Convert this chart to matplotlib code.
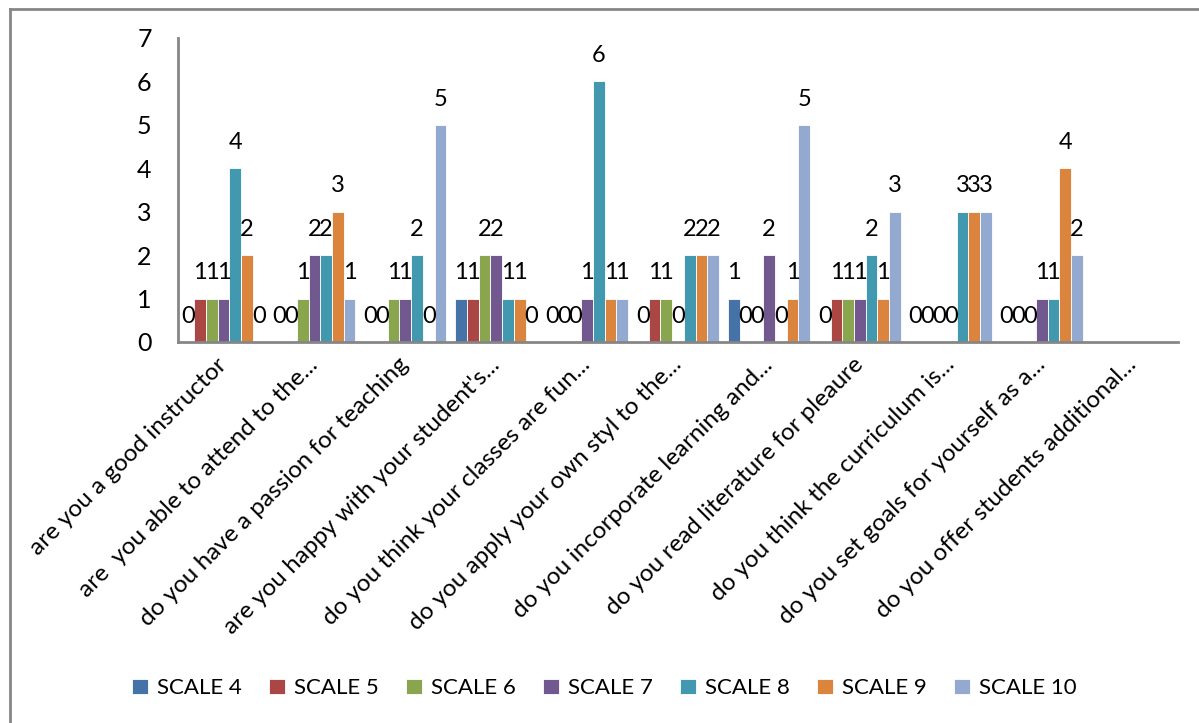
import matplotlib.pyplot as plt
import numpy as np
from matplotlib.lines import Line2D

plt.rcParams['font.family'] = ['Lato', 'DejaVu Sans']

questions = [
    "are you a good instructor",
    "are  you able to attend to the...",
    "do you have a passion for teaching",
    "are you happy with your student's...",
    "do you think your classes are fun...",
    "do you apply your own styl to the...",
    "do you incorporate learning and...",
    "do you read literature for pleaure",
    "do you think the curriculum is...",
    "do you set goals for yourself as a...",
    "do you offer students additional...",
]

scale_4 = [0, 0, 0, 1, 0, 0, 1, 0, 0, 0, None]
scale_5 = [1, 0, 0, 1, 0, 1, 0, 1, 0, 0, None]
scale_6 = [1, 1, 1, 2, 0, 1, 0, 1, 0, 0, None]
scale_7 = [1, 2, 1, 2, 1, 0, 2, 1, 0, 1, None]
scale_8 = [4, 2, 2, 1, 6, 2, 0, 2, 3, 1, None]
scale_9 = [2, 3, 0, 1, 1, 2, 1, 1, 3, 4, None]
scale_10 = [0, 1, 5, 0, 1, 2, 5, 3, 3, 2, None]

series = [scale_4, scale_5, scale_6, scale_7, scale_8, scale_9, scale_10]
names = ['SCALE 4', 'SCALE 5', 'SCALE 6', 'SCALE 7', 'SCALE 8', 'SCALE 9', 'SCALE 10']
colors = ['#4572a7', '#aa4643', '#89a54e', '#71588f', '#4198af', '#db843d', '#93a9cf']

fig = plt.figure(figsize=(11.99, 7.23), dpi=100)
ax = fig.add_axes([0.1485, 0.527, 0.834, 0.4205])

x = np.arange(len(questions))
w = 0.129
for i, (vals, name, c) in enumerate(zip(series, names, colors)):
    v = np.array([np.nan if a is None else a for a in vals], dtype=float)
    pos = x + (i - 3) * w
    ax.bar(pos, np.nan_to_num(v), w, color=c, edgecolor='white', linewidth=0.6, label=name)
    for p, val in zip(pos, v):
        if np.isnan(val):
            continue
        ax.annotate(str(int(val)), (p, val), xytext=(0, 18.5), textcoords='offset points',
                    ha='center', va='center', fontsize=17)

ax.set_xlim(-0.5, len(questions) - 0.5)
ax.set_ylim(0, 7)
ax.set_yticks(range(8))
ax.set_xticks(x)
ax.set_xticklabels(questions, rotation=45, ha='right', va='center', rotation_mode='anchor', fontsize=17.5)
ax.tick_params(axis='y', length=0, pad=19, labelsize=18)
ax.tick_params(axis='x', length=0, pad=14)
for s in ['top', 'right']:
    ax.spines[s].set_visible(False)
for s in ['left', 'bottom']:
    ax.spines[s].set_color('#868686')
    ax.spines[s].set_linewidth(2)

fig.legend(loc='center', bbox_to_anchor=(0.504, 0.048), ncol=7, frameon=False, fontsize=16,
           handlelength=0.7, handleheight=0.7, handletextpad=0.4, columnspacing=1.25)

# outer chart frame (top and left edges visible)
fig.add_artist(Line2D([0.0083, 1.0], [0.987, 0.987], color='#868686', lw=2))
fig.add_artist(Line2D([0.0083, 0.0083], [0.0, 0.987], color='#868686', lw=2))

fig.savefig('out.png', dpi=100)
